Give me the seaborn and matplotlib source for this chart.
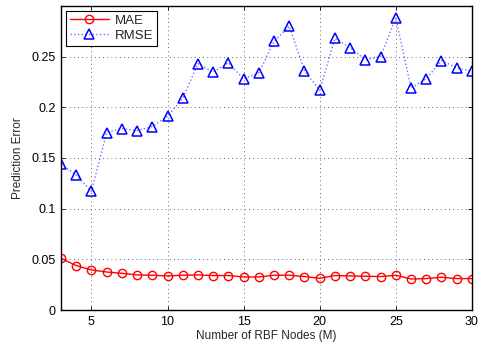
import matplotlib
matplotlib.use('Agg')
import matplotlib.pyplot as plt
import seaborn as sns
import pandas as pd

nodes = list(range(3, 31))
mae = [0.051, 0.0438, 0.0395, 0.0375, 0.0362, 0.0346, 0.0343, 0.0336, 0.0343, 0.0346,
       0.034, 0.034, 0.0326, 0.0326, 0.0343, 0.0343, 0.033, 0.0313, 0.034, 0.0336,
       0.0333, 0.033, 0.0343, 0.0306, 0.031, 0.0323, 0.031, 0.031]
rmse = [0.144, 0.133, 0.117, 0.175, 0.179, 0.177, 0.181, 0.191, 0.209, 0.243,
        0.2345, 0.244, 0.228, 0.234, 0.265, 0.280, 0.236, 0.2167, 0.268, 0.2586,
        0.247, 0.250, 0.288, 0.219, 0.228, 0.246, 0.239, 0.2355]
yticks = [0, 0.05, 0.1, 0.15, 0.2, 0.25]
ytick_labels = ['0', '0.05', '0.1', '0.15', '0.2', '0.25']
xticks = [5, 10, 15, 20, 25, 30]

df = pd.DataFrame({'M': nodes, 'MAE': mae, 'RMSE': rmse})

sns.set_style('ticks')
plt.rcParams['font.family'] = ['Liberation Sans', 'DejaVu Sans']

fig = plt.figure(figsize=(4.84, 3.47), dpi=100)
ax = fig.add_axes([0.126, 0.1066, 0.849, 0.8764])

sns.lineplot(data=df, x='M', y='MAE', ax=ax, color='red', lw=1.0,
             marker='o', markersize=6, markerfacecolor='none',
             markeredgecolor='red', markeredgewidth=1.0, label='MAE')
sns.lineplot(data=df, x='M', y='RMSE', ax=ax, color='#6f6fff', lw=1.0,
             linestyle=':', marker='^', markersize=6.5, markerfacecolor='none',
             markeredgecolor='blue', markeredgewidth=1.1, label='RMSE')

ax.set_xlim(3, 30)
ax.set_ylim(0, 0.3)
ax.set_xticks(xticks)
ax.set_xticklabels([str(t) for t in xticks])
ax.set_yticks(yticks)
ax.set_yticklabels(ytick_labels)
ax.tick_params(direction='in', length=3, width=0.6, labelsize=9, top=True, right=True,
               labeltop=False, labelright=False, colors='black', pad=4)
ax.grid(True, linestyle=(0, (1, 4)), color='black', lw=0.6, alpha=0.8)
for s in ax.spines.values():
    s.set_visible(True)
    s.set_linewidth(1.0)
    s.set_color('black')

ax.set_xlabel('Number of RBF Nodes (M)', fontsize=8.5, labelpad=2)
ax.set_ylabel('Prediction Error', fontsize=8.5, labelpad=5)

leg = ax.legend(loc='upper left', fontsize=9.5, frameon=True, fancybox=False,
                edgecolor='black', framealpha=1, borderaxespad=0.35,
                handlelength=3.0, handletextpad=0.4, borderpad=0.3,
                labelspacing=0.2)
leg.get_frame().set_linewidth(0.8)

fig.savefig('out.png', dpi=100)
